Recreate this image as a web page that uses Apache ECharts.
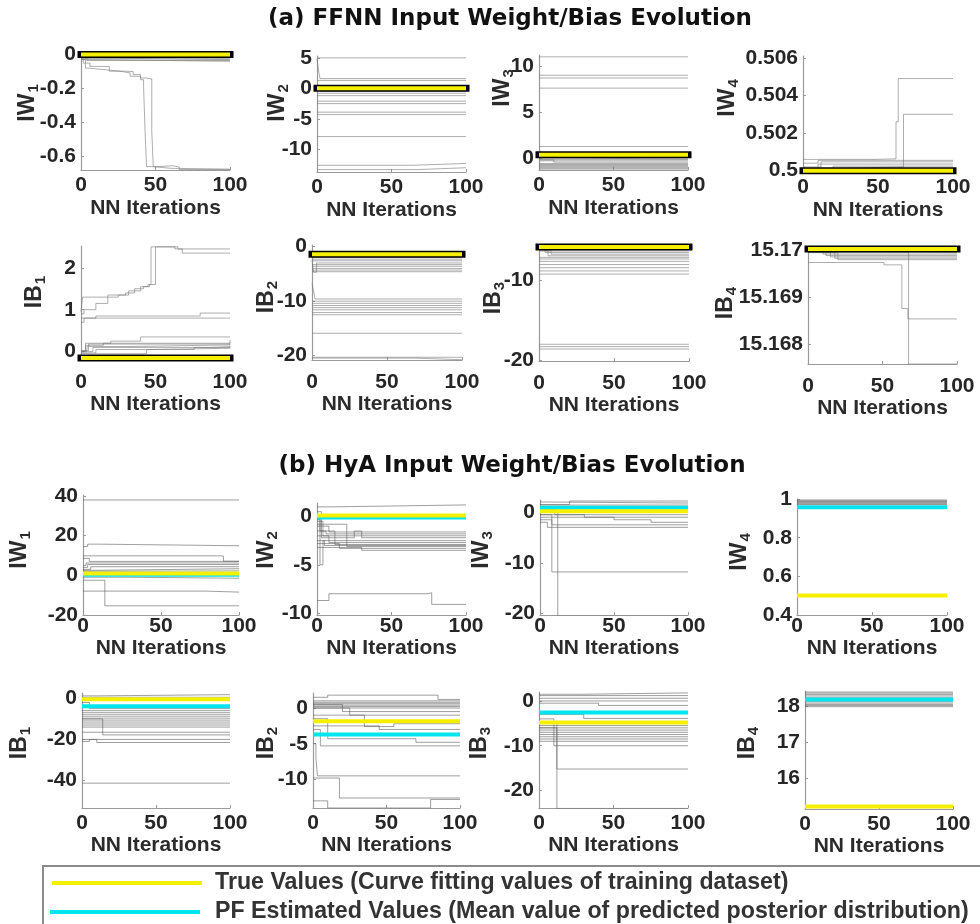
<!DOCTYPE html>
<html><head><meta charset="utf-8">
<script src="https://cdn.jsdelivr.net/npm/echarts@6/dist/echarts.min.js"></script>
<style>html,body{margin:0;padding:0;background:#fff}#c{width:980px;height:924px}</style>
</head><body><div id="c"></div>
<script>
// ---------------- DATA ----------------
// x axis ticks (NN iterations)
const xTicks = [0, 50, 100];

// (a) FFNN panels: gray traces as step breakpoints [iteration, value]
const aIW1 = [
  [[0,-0.03],[3,-0.08],[5,-0.09],[17,-0.098],[26,-0.108],[33,-0.128],[40,-0.148],[42,-0.19],[43,-0.45],[44,-0.66],[48,-0.67],[60,-0.675],[100,-0.675]],
  [[0,-0.02],[1.5,-0.05],[6,-0.07],[19,-0.098],[30,-0.1],[35,-0.118],[40,-0.138],[44,-0.144],[47.5,-0.45],[48.5,-0.66],[51,-0.655],[62,-0.663],[66,-0.677],[100,-0.677]],
  [[0,0],[2,-0.01],[100,-0.01]],
  [[0,-0.01],[5,-0.02],[100,-0.02]],
  [[0,-0.01],[3,-0.025],[100,-0.025]],
  [[0,-0.02],[8,-0.03],[100,-0.03]],
  [[0,-0.02],[4,-0.035],[100,-0.035]],
  [[0,-0.03],[10,-0.04],[100,-0.04]]
];
const aIW2 = [
  [[0,5],[100,5]],
  [[0,4.8],[1,3],[2,1.6],[100,1.6]],
  [[0,1.3],[100,1.3]],
  [[0,0.5],[2,-0.5],[100,-0.5]],
  [[0,-0.8],[100,-0.8]],
  [[0,-1.2],[100,-1.2]],
  [[0,-2.1],[100,-2.1]],
  [[0,-2.5],[100,-2.5]],
  [[0,-3.9],[100,-3.9]],
  [[0,-4.3],[100,-4.3]],
  [[0,-7.9],[100,-7.9]],
  [[0,-12.6],[64,-12.3],[100,-12.3]],
  [[0,-13.3],[68,-13.0],[100,-13.0]]
];
const aIW3 = [
  [[0,11],[100,11]], [[0,9],[100,9]], [[0,8.7],[100,8.7]], [[0,7.6],[100,7.6]], [[0,1.25],[100,1.25]],
  [[0,0.15],[100,0.15]], [[0,0],[6,-0.1],[100,-0.1]], [[0,-0.15],[100,-0.15]], [[0,-0.3],[100,-0.3]],
  [[0,-0.2],[10,-0.45],[100,-0.45]], [[0,-0.6],[100,-0.6]], [[0,-0.7],[100,-0.7]], [[0,-0.8],[100,-0.8]],
  [[0,-0.9],[100,-0.9]], [[0,-1.0],[100,-1.0]], [[0,-1.1],[100,-1.1]], [[0,-1.2],[100,-1.2]]
];
const aIW4 = [
  [[0,0.5006],[48,0.50063],[62,0.5026],[63.5,0.5049],[100,0.5049]],
  [[0,0.5001],[10,0.5002],[67,0.5030],[100,0.5030]],
  [[0,0.5004],[10,0.50055],[100,0.50055]],
  [[0,0.5002],[12,0.50047],[100,0.50047]],
  [[0,0.5001],[10,0.50035],[100,0.50035]],
  [[0,0.5001],[20,0.50024],[100,0.50024]],
  [[0,0.5000],[15,0.50012],[100,0.50012]],
  [[0,0.5000],[5,0.50004],[100,0.50004]]
];
const aIB1 = [
  [[0,0.95],[1,1.3],[12,1.3],[18,1.35],[30,1.4],[36,1.5],[42,1.55],[45,1.6],[47,2.5],[63,2.45],[100,2.45]],
  [[0,0.9],[2,1.0],[10,1.15],[18,1.3],[25,1.35],[32,1.45],[40,1.55],[46,1.6],[50,2.5],[65,2.45],[68,2.35],[100,2.35]],
  [[0,0.7],[2,0.8],[100,0.8]],
  [[0,0.8],[10,0.85],[80,0.92],[100,0.92]],
  [[0,0],[3,0.2],[20,0.25],[40,0.35],[100,0.35]],
  [[0,0],[3,0.15],[15,0.2],[100,0.28]],
  [[0,0.02],[5,0.18],[100,0.22]],
  [[0,0.02],[4,0.12],[30,0.16],[100,0.18]],
  [[0,0],[8,0.1],[100,0.14]],
  [[0,-0.03],[10,0.05],[44,0.08],[100,0.1]],
  [[0,-0.05],[44,0.05],[76,0.1],[87,0.12],[100,0.12]]
];
const aIB2 = [
  [[0,-1.8],[100,-1.8]], [[0,-2.0],[100,-2.0]], [[0,-2.3],[100,-2.3]], [[0,-2.6],[100,-2.6]],
  [[0,-2.5],[1,-4.7],[3,-3.0],[100,-3.0]], [[0,-3.3],[100,-3.3]], [[0,-3.6],[100,-3.6]],
  [[0,-4.0],[100,-4.0]], [[0,-4.3],[100,-4.3]], [[0,-4.6],[100,-4.6]],
  [[0,-6.8],[1,-8],[2,-9.6],[100,-9.6]],
  [[0,-10.0],[100,-10.0]], [[0,-10.4],[100,-10.4]], [[0,-10.8],[100,-10.8]], [[0,-11.2],[100,-11.2]],
  [[0,-11.6],[100,-11.6]], [[0,-12.1],[100,-12.1]], [[0,-12.5],[100,-12.5]],
  [[0,-15.9],[100,-15.9]],
  [[0,-20.3],[100,-20.3]],
  [[0,-20.45],[68,-20.75],[100,-20.75]]
];
const aIB3 = [
  [[0,-6.0],[3,-6.1],[100,-6.1]], [[0,-6.0],[5,-6.3],[100,-6.3]], [[0,-6.1],[4,-6.5],[100,-6.5]],
  [[0,-6.2],[8,-6.7],[100,-6.7]], [[0,-6.3],[6,-6.9],[100,-6.9]], [[0,-7.1],[100,-7.1]], [[0,-7.3],[100,-7.3]],
  [[0,-7.6],[100,-7.6]], [[0,-8.0],[100,-8.0]], [[0,-8.4],[100,-8.4]], [[0,-8.8],[100,-8.8]], [[0,-9.2],[100,-9.2]],
  [[0,-18.0],[100,-18.0]], [[0,-18.3],[100,-18.3]], [[0,-18.6],[100,-18.6]]
];
const aIB4 = [
  [[0,15.16973],[51,15.16968],[63,15.16875],[67,15.16853],[100,15.16853]],
  [[0,15.16995],[67.5,15.16757],[100,15.16757]],
  [[0,15.16999],[100,15.16997]], [[0,15.16998],[8,15.16994],[100,15.16994]],
  [[0,15.16998],[10,15.16991],[100,15.16991]], [[0,15.16997],[12,15.16988],[100,15.16988]],
  [[0,15.16996],[15,15.16985],[100,15.16985]], [[0,15.16995],[18,15.16982],[100,15.16982]],
  [[0,15.16994],[20,15.16979],[100,15.16979]]
];

// (b) HyA panels
const bIW1 = [
  [[0,38],[100,38]],
  [[0,14.5],[3,15.7],[10,14.9],[100,14.9]],
  [[0,9.8],[88,9.7],[90,7.1],[100,7.1]],
  [[0,8.5],[4,7],[100,7]],
  [[0,5],[2,6.2],[100,6.2]],
  [[0,4],[3,5.4],[100,5.4]],
  [[0,3],[5,4.3],[100,4.3]],
  [[0,2.5],[8,3.3],[100,3.3]],
  [[0,2],[10,2.2],[100,2.2]],
  [[0,-1],[30,-1.5],[100,-1.5]],
  [[0,-2.5],[14,-15.4],[100,-15.4]],
  [[0,-8],[79,-8.5],[100,-8.5]]
];
const bIW2 = [
  [[0,1.0],[10,1.2],[100,1.2]],
  [[0,0.5],[3,-1],[8,-1.6],[100,-1.6]],
  [[0,0],[2,-1.5],[6,-1.8],[100,-1.8]],
  [[0,-0.5],[4,-2.0],[100,-2.0]],
  [[0,-1],[3,-2.2],[25,-1.5],[30,-2.2],[100,-2.2]],
  [[0,-0.3],[2,-5],[4,-2.5],[100,-2.5]],
  [[0,-2],[8,-2.7],[100,-2.7]],
  [[0,-1.5],[12,-2.9],[100,-2.9]],
  [[0,-2.5],[5,-3.0],[100,-3.0]],
  [[0,-0.8],[20,-3.1],[100,-3.1]],
  [[0,-2.8],[15,-3.3],[100,-3.3]],
  [[0,-3.2],[30,-3.5],[100,-3.5]],
  [[0,-8.7],[8,-8.0],[74,-7.9],[77,-9.1],[100,-9.1]]
];
const bIW3 = [
  [[0,1.5],[20,2.2],[100,2.2]], [[0,2.0],[5,1.8],[100,1.8]], [[0,1.4],[100,1.4]], [[0,1.0],[100,1.0]],
  [[0,0.5],[10,-0.5],[100,-0.5]], [[0,-0.5],[30,-1.0],[100,-1.0]],
  [[0,-1],[50,-1.5],[75,-2.0],[100,-2.0]], [[0,-1.5],[8,-2.5],[100,-2.5]], [[0,-2],[5,-3.0],[100,-3.0]],
  [[0,-0.5],[8,-11.8],[100,-11.8]],
  [[0,0],[12,-20.5],[100,-20.5]]
];
const bIW4 = [
  [[0,0.972],[100,0.972]], [[0,0.976],[100,0.976]], [[0,0.98],[100,0.98]], [[0,0.984],[100,0.984]],
  [[0,0.988],[100,0.988]], [[0,0.992],[100,0.992]], [[0,0.996],[100,0.996]]
];
const bIB1 = [
  [[0,1.2],[10,1.8],[100,1.8]], [[0,0.5],[100,0.5]],
  [[0,-2],[5,-5],[100,-5]], [[0,-6],[100,-6]], [[0,-7],[100,-7]], [[0,-8],[100,-8]], [[0,-9],[100,-9]],
  [[0,-10],[100,-10]], [[0,-11],[100,-11]], [[0,-12],[100,-12]], [[0,-13],[100,-13]], [[0,-14],[100,-14]],
  [[0,-10],[14,-17.8],[100,-17.8]], [[0,-16.5],[100,-16.5]], [[0,-20],[100,-20]],
  [[0,-21],[5,-20],[10,-21.5],[100,-21.5]],
  [[0,-41.3],[100,-41.3]]
];
const bIB2 = [
  [[0,1.5],[10,1.8],[85,1.2],[100,1.2]],
  [[0,1.0],[100,1.0]], [[0,0.8],[100,0.8]], [[0,0.6],[100,0.6]], [[0,0.4],[100,0.4]], [[0,0.2],[100,0.2]], [[0,0.0],[100,0.0]],
  [[0,0.5],[20,-0.5],[100,-0.5]],
  [[0,0],[25,-1.0],[100,-1.0]],
  [[0,-1],[35,-2.6],[55,-2.2],[100,-2.2]],
  [[0,-2.5],[45,-3.0],[100,-3.0]],
  [[0,-1.5],[10,-4.3],[70,-4.8],[100,-4.8]],
  [[0,-3],[5,-5.3],[100,-5.3]],
  [[0,-5],[2,-7],[3,-9.5],[100,-9.5]],
  [[0,-9.8],[18,-12.6],[100,-12.6]],
  [[0,-13],[10,-14],[80,-12.8],[100,-12.8]]
];
const bIB3 = [
  [[0,1.5],[30,1.8],[100,1.8]], [[0,1.2],[100,1.2]], [[0,0.6],[100,0.6]], [[0,0],[100,0]],
  [[0,-0.5],[40,-1.0],[100,-1.0]],
  [[0,-3],[30,-3.9],[100,-3.9]],
  [[0,-5.5],[100,-5.5]], [[0,-6.0],[100,-6.0]], [[0,-6.5],[100,-6.5]], [[0,-7.0],[100,-7.0]],
  [[0,-7.5],[100,-7.5]], [[0,-8.0],[100,-8.0]], [[0,-8.5],[100,-8.5]], [[0,-9.0],[100,-9.0]],
  [[0,-4],[10,-10],[100,-10]],
  [[0,-6],[12,-15.2],[100,-15.2]],
  [[0,-5],[12,-24],[100,-24]]
];
const bIB4 = [
  [[0,18.0],[100,18.0]], [[0,18.03],[100,18.03]], [[0,18.06],[100,18.06]], [[0,18.1],[100,18.1]],
  [[0,18.14],[100,18.14]], [[0,18.25],[100,18.25]], [[0,18.3],[100,18.3]], [[0,18.34],[100,18.34]],
  [[0,18.38],[100,18.38]], [[0,18.41],[100,18.41]]
];

// true / estimated constant values per panel
const aTrue = [0, 0, 0.35, 0.5, -0.15, -1.4, -5.8, 15.17002];
const bTrue = [0.9, 0.1, 0.2, 0.5, -0.4, -1.86, -4.8, 15.2];
const bEst  = [0.3, -0.1, 0.85, 0.958, -3.8, -3.72, -2.6, 18.2];

// y-axis extents
const aYMin = [-0.68, -13.7, -1.3, 0.49993, -0.2, -20.8, -20.1, 15.16757];
const aYMax = [0.015, 5.3, 11.2, 0.5061, 2.52, 0.3, -5.55, 15.17006];
const bYMin = [-20.05, -10.2, -20.3, 0.399, -53.4, -14, -23.9, 15.13];
const bYMax = [40.5, 1.4, 2.4, 1.001, 2.6, 2.1, 2.0, 18.44];

// y tick labels
const aYTicks = [[-0.6,-0.4,-0.2,0],[-10,-5,0,5],[0,5,10],[0.5,0.502,0.504,0.506],[0,1,2],[-20,-10,0],[-20,-10],[15.168,15.169,15.17]];
const bYTicks = [[-20,0,20,40],[-10,-5,0],[-20,-10,0],[0.4,0.6,0.8,1],[-40,-20,0],[-10,-5,0],[-20,-10,0],[16,17,18]];

// y-axis titles (main, subscript)
const yNames = ['IW','IW','IW','IW','IB','IB','IB','IB'];
const ySubs  = ['1','2','3','4','1','2','3','4'];

const titles = ['(a) FFNN Input Weight/Bias Evolution', '(b) HyA Input Weight/Bias Evolution'];
const legendNames = ['True Values (Curve fitting values of training dataset)',
                     'PF Estimated Values (Mean value of predicted posterior distribution)'];

// ---------------- LAYOUT ----------------
const F = '"Liberation Sans", Arial, sans-serif';
const YEL = '#f5f000', CYA = '#00e5ee';
const boxes = [ // [left, top, right, bottom]
  [81,52,230,170],[317,56,466,172],[539,55,688,170],[803,56,953,172],
  [81,246,230,360],[312,245,462,360],[539,245,689,361],[808,247,957,364],
  [83,495,239,615],[317,503,466,615],[540,500,688,615],[797,499,947,615],
  [82,693,230,808],[313,693,460,808],[539,692,688,808],[805,691,953,809]
];
const yNamePos = [
  [28,103],[278,103],[503,88],[728,98],
  [35,292],[267,297],[494,298],[726,303],
  [20,550],[267,550],[482,550],[740,552],
  [20,743],[267,743],[480,743],[748,743]
];
const rowLabelMargin = [5,12,1,5];
const rowNameGap = [28,32,23,25];

const aGray = [aIW1,aIW2,aIW3,aIW4,aIB1,aIB2,aIB3,aIB4];
const bGray = [bIW1,bIW2,bIW3,bIW4,bIB1,bIB2,bIB3,bIB4];

const grids=[], xAxes=[], yAxes=[], series=[], graphics=[];
const fmt = v => String(Number((+v).toFixed(5)));
const flat = (y) => [[0,y],[100,y]];

for (let i = 0; i < 16; i++) {
  const isB = i >= 8, k = i % 8, row = Math.floor(i/4);
  const b = boxes[i];
  grids.push({left:b[0], top:b[1], width:b[2]-b[0], height:b[3]-b[1]});
  xAxes.push({
    type:'value', gridIndex:i, min:0, max:100,
    name:'NN Iterations', nameLocation:'middle', nameGap:rowNameGap[row],
    nameTextStyle:{fontSize:21, fontWeight:'bold', fontFamily:F, color:'#2b2b2b'},
    axisLine:{show:true, onZero:false, lineStyle:{color:'#9a9a9a', width:1.2}},
    axisTick:{show:true, inside:true, length:3, customValues:xTicks, lineStyle:{color:'#9a9a9a'}},
    axisLabel:{customValues:xTicks, margin:rowLabelMargin[row], fontSize:21, fontWeight:'bold', fontFamily:F, color:'#262626'},
    splitLine:{show:false}
  });
  yAxes.push({
    type:'value', gridIndex:i,
    min:(isB?bYMin:aYMin)[k], max:(isB?bYMax:aYMax)[k],
    axisLine:{show:true, onZero:false, lineStyle:{color:'#9a9a9a', width:1.2}},
    axisTick:{show:true, inside:true, length:3, customValues:(isB?bYTicks:aYTicks)[k], lineStyle:{color:'#9a9a9a'}},
    axisLabel:{customValues:(isB?bYTicks:aYTicks)[k], formatter:fmt, margin:5, fontSize:21, fontWeight:'bold', fontFamily:F, color:'#262626'},
    splitLine:{show:false}
  });
  const grayCol = isB ? 'rgba(95,95,95,0.6)' : 'rgba(120,120,120,0.6)';
  (isB?bGray:aGray)[k].forEach(tr => series.push({
    type:'line', xAxisIndex:i, yAxisIndex:i, data:tr, step:'end', symbol:'none', silent:true,
    lineStyle:{color:grayCol, width:1}, animation:false
  }));
  if (!isB) {
    series.push({type:'line', name:'aTrueBorder', xAxisIndex:i, yAxisIndex:i, data:flat(aTrue[k]), symbol:'none', silent:true, clip:false,
      lineStyle:{color:'#000', width:7, cap:'square'}, animation:false, z:5});
    series.push({type:'line', name:'aTrue', xAxisIndex:i, yAxisIndex:i, data:flat(aTrue[k]), symbol:'none', silent:true, clip:false,
      lineStyle:{color:YEL, width:4}, animation:false, z:6});
  } else {
    series.push({type:'line', name:legendNames[1], xAxisIndex:i, yAxisIndex:i, data:flat(bEst[k]), symbol:'none', silent:true,
      itemStyle:{color:CYA}, lineStyle:{color:CYA, width:4}, animation:false, z:5});
    series.push({type:'line', name:legendNames[0], xAxisIndex:i, yAxisIndex:i, data:flat(bTrue[k]), symbol:'none', silent:true,
      itemStyle:{color:YEL}, lineStyle:{color:YEL, width:4}, animation:false, z:6});
  }
  graphics.push({
    type:'text', x:yNamePos[i][0], y:yNamePos[i][1], rotation:Math.PI/2,
    style:{
      text:'{m|'+yNames[k]+'}{s|'+ySubs[k]+'}', align:'center', verticalAlign:'middle',
      rich:{
        m:{fontSize:23, fontWeight:'bold', fontFamily:F, fill:'#2b2b2b', lineHeight:26},
        s:{fontSize:15, fontWeight:'bold', fontFamily:F, fill:'#2b2b2b', lineHeight:26, verticalAlign:'bottom', padding:[8,0,0,1]}
      }
    }
  });
}
// panel titles
const TF = 'bold 23px "DejaVu Sans", Verdana, sans-serif';
graphics.push({type:'text', x:510, y:19, style:{text:titles[0], align:'center', verticalAlign:'middle', font:TF, fill:'#111'}});
graphics.push({type:'text', x:512, y:466, style:{text:titles[1], align:'center', verticalAlign:'middle', font:TF, fill:'#111'}});
// legend box
const LF = 'bold 23.2px ' + F;
graphics.push({type:'rect', shape:{x:43, y:866, width:1000, height:100}, style:{fill:'#fff', stroke:'#8c8c8c', lineWidth:2}, z:10});
graphics.push({type:'line', shape:{x1:52, y1:883, x2:202, y2:883}, style:{stroke:YEL, lineWidth:4}, z:11});
graphics.push({type:'line', shape:{x1:50, y1:912, x2:200, y2:912}, style:{stroke:CYA, lineWidth:4}, z:11});
graphics.push({type:'text', x:215, y:883, style:{text:legendNames[0], verticalAlign:'middle', font:LF, fill:'#333'}, z:11});
graphics.push({type:'text', x:215, y:912, style:{text:legendNames[1], verticalAlign:'middle', font:LF, fill:'#333'}, z:11});

const chart = echarts.init(document.getElementById('c'), null, {renderer:'canvas'});
chart.setOption({
  backgroundColor:'#fff',
  animation:false,
  grid:grids, xAxis:xAxes, yAxis:yAxes, series:series,
  graphic:graphics
});
</script></body></html>
